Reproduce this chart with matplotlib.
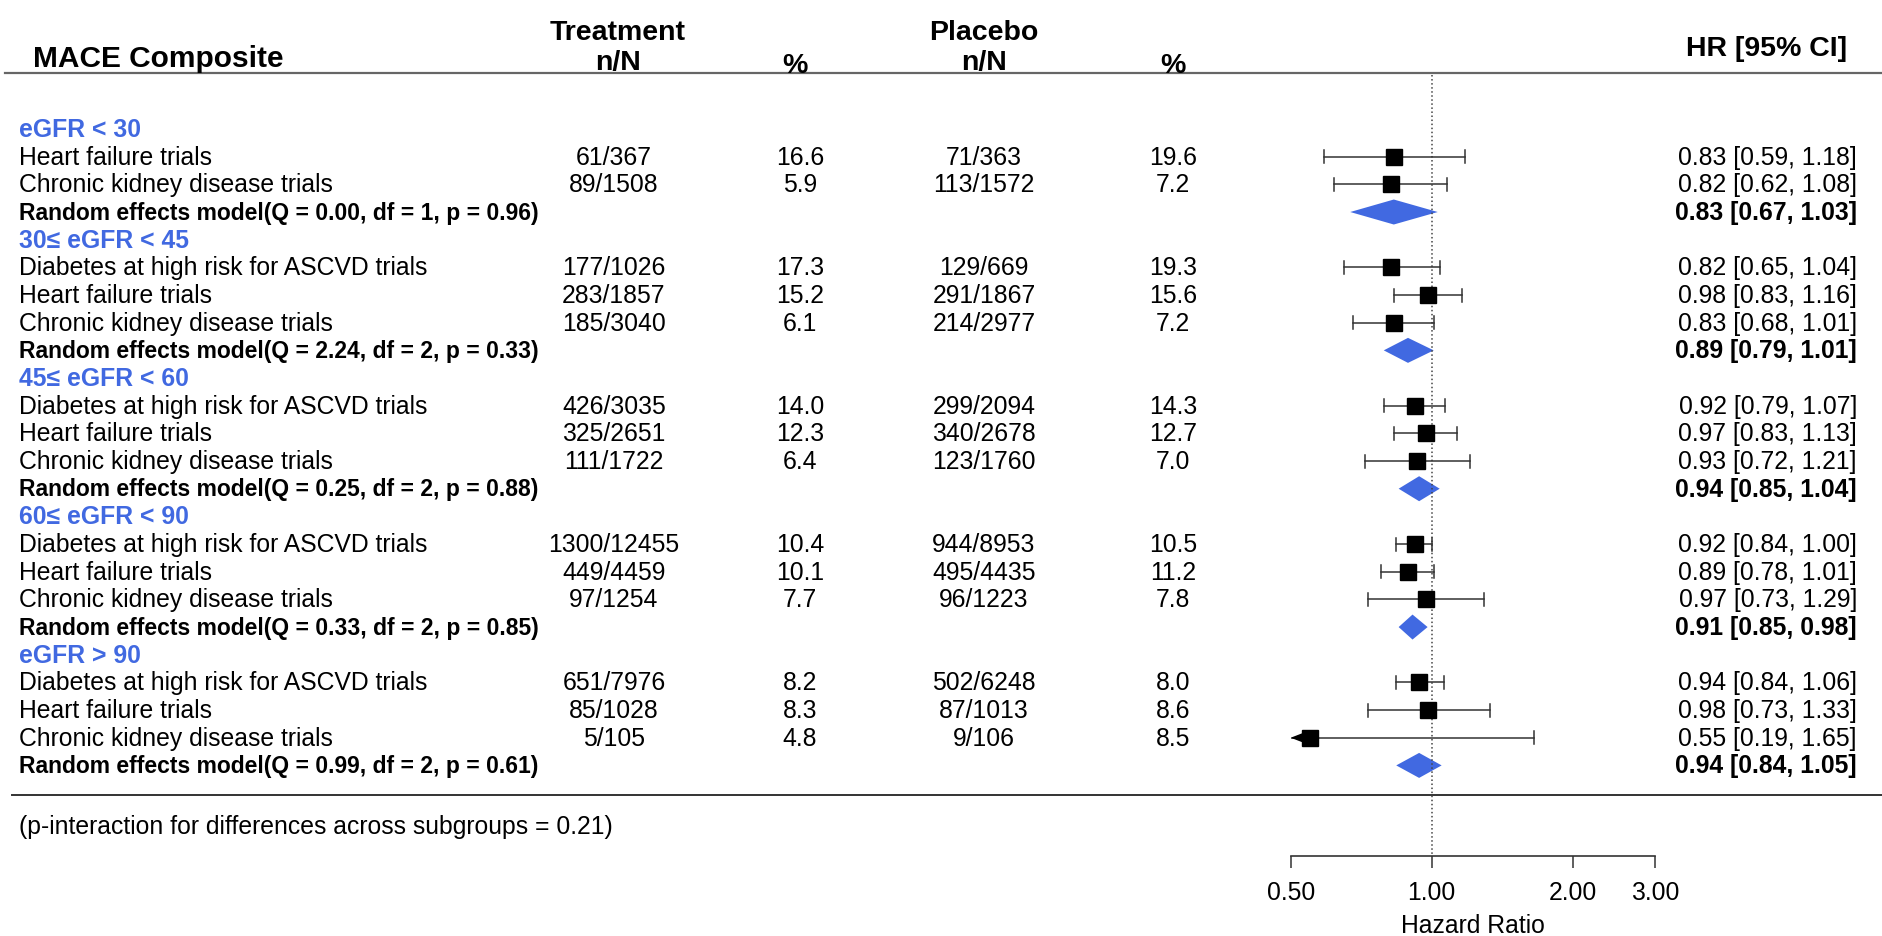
import numpy as np
import matplotlib.pyplot as plt
from matplotlib.ticker import NullLocator

plt.rcParams['font.family'] = ['Liberation Sans', 'DejaVu Sans']

# ---- data -------------------------------------------------------------
groups = ['eGFR < 30', '30≤ eGFR < 45', '45≤ eGFR < 60', '60≤ eGFR < 90', 'eGFR > 90']

trial_group = [0, 0, 1, 1, 1, 2, 2, 2, 3, 3, 3, 4, 4, 4]
trial_name = ['Heart failure trials', 'Chronic kidney disease trials',
              'Diabetes at high risk for ASCVD trials', 'Heart failure trials', 'Chronic kidney disease trials',
              'Diabetes at high risk for ASCVD trials', 'Heart failure trials', 'Chronic kidney disease trials',
              'Diabetes at high risk for ASCVD trials', 'Heart failure trials', 'Chronic kidney disease trials',
              'Diabetes at high risk for ASCVD trials', 'Heart failure trials', 'Chronic kidney disease trials']
trt_events = ['61/367', '89/1508', '177/1026', '283/1857', '185/3040', '426/3035', '325/2651', '111/1722',
              '1300/12455', '449/4459', '97/1254', '651/7976', '85/1028', '5/105']
trt_pct = [16.6, 5.9, 17.3, 15.2, 6.1, 14.0, 12.3, 6.4, 10.4, 10.1, 7.7, 8.2, 8.3, 4.8]
pbo_events = ['71/363', '113/1572', '129/669', '291/1867', '214/2977', '299/2094', '340/2678', '123/1760',
              '944/8953', '495/4435', '96/1223', '502/6248', '87/1013', '9/106']
pbo_pct = [19.6, 7.2, 19.3, 15.6, 7.2, 14.3, 12.7, 7.0, 10.5, 11.2, 7.8, 8.0, 8.6, 8.5]
hr = [0.83, 0.82, 0.82, 0.98, 0.83, 0.92, 0.97, 0.93, 0.92, 0.89, 0.97, 0.94, 0.98, 0.55]
hr_lo = [0.59, 0.62, 0.65, 0.83, 0.68, 0.79, 0.83, 0.72, 0.84, 0.78, 0.73, 0.84, 0.73, 0.19]
hr_hi = [1.18, 1.08, 1.04, 1.16, 1.01, 1.07, 1.13, 1.21, 1.00, 1.01, 1.29, 1.06, 1.33, 1.65]

re_q = [0.00, 2.24, 0.25, 0.33, 0.99]
re_df = [1, 2, 2, 2, 2]
re_p = [0.96, 0.33, 0.88, 0.85, 0.61]
re_hr = [0.83, 0.89, 0.94, 0.91, 0.94]
re_lo = [0.67, 0.79, 0.85, 0.85, 0.84]
re_hi = [1.03, 1.01, 1.04, 0.98, 1.05]

p_interaction = 0.21
xticks = [0.5, 1, 2, 3]
xtick_labels = ['0.50', '1.00', '2.00', '3.00']

# ---- layout (pixels) ---------------------------------------------------
W, H = 1883, 937
ROW0, DY = 130, 27.67
X_LAB, X_TN, X_TP, X_PN, X_PP, X_HR = 19, 614, 800, 984, 1173, 1857
FX0, FX1, AXY = 1290.7, 1655.2, 857
FS = 17.8      # regular body text
FS_RE = 16.5   # random-effects label
BLUE = '#4169E1'
GREY = '#333333'

fig = plt.figure(figsize=(W / 100, H / 100), dpi=100)
ax = fig.add_axes([0, 0, 1, 1])
ax.set_xlim(0, W)
ax.set_ylim(H, 0)
ax.axis('off')

axf = fig.add_axes([FX0 / W, (H - AXY) / H, (FX1 - FX0) / W, AXY / H])
axf.set_xscale('log')
axf.set_xlim(xticks[0], xticks[-1])
axf.set_ylim(AXY, 0)
axf.patch.set_visible(False)
for s in ['top', 'left', 'right']:
    axf.spines[s].set_visible(False)
axf.spines['bottom'].set_linewidth(1.2)
axf.spines['bottom'].set_color(GREY)
axf.set_yticks([])
axf.set_xticks(xticks)
axf.set_xticklabels(xtick_labels)
axf.xaxis.set_minor_locator(NullLocator())
axf.tick_params(axis='x', direction='out', length=8.6, width=1.1, color=GREY, labelsize=FS, pad=9)
axf.set_xlabel('Hazard Ratio', fontsize=FS, labelpad=6)

# header
ax.text(33, 59, 'MACE Composite', fontsize=21.5, fontweight='bold', va='center')
ax.text(X_TN + 4, 33, 'Treatment', fontsize=20.5, fontweight='bold', ha='center', va='center')
ax.text(X_TN + 4, 63, 'n/N', fontsize=20.5, fontweight='bold', ha='center', va='center')
ax.text(X_TP - 5, 66, '%', fontsize=20.5, fontweight='bold', ha='center', va='center')
ax.text(X_PN, 33, 'Placebo', fontsize=20.5, fontweight='bold', ha='center', va='center')
ax.text(X_PN, 63, 'n/N', fontsize=20.5, fontweight='bold', ha='center', va='center')
ax.text(X_PP, 66, '%', fontsize=20.5, fontweight='bold', ha='center', va='center')
ax.text(1847, 49, 'HR [95% CI]', fontsize=20.5, fontweight='bold', ha='right', va='center')
ax.plot([5, W], [74, 74], color='#666666', lw=1.6)

# reference line at HR = 1
axf.plot([1, 1], [76, AXY], ls=':', color='#444444', lw=1.1)

row = 0
for g, gname in enumerate(groups):
    y = ROW0 + row * DY
    ax.text(X_LAB, y, gname, color=BLUE, fontsize=FS, fontweight='bold', va='center')
    row += 1
    for k in [k for k in range(len(trial_name)) if trial_group[k] == g]:
        y = ROW0 + row * DY
        ax.text(X_LAB, y, trial_name[k], fontsize=FS, va='center')
        ax.text(X_TN, y, trt_events[k], fontsize=FS, ha='center', va='center')
        ax.text(X_TP, y, f'{trt_pct[k]:.1f}', fontsize=FS, ha='center', va='center')
        ax.text(X_PN, y, pbo_events[k], fontsize=FS, ha='center', va='center')
        ax.text(X_PP, y, f'{pbo_pct[k]:.1f}', fontsize=FS, ha='center', va='center')
        ax.text(X_HR, y, f'{hr[k]:.2f} [{hr_lo[k]:.2f}, {hr_hi[k]:.2f}]', fontsize=FS, ha='right', va='center')
        lo = max(hr_lo[k], xticks[0])
        axf.plot([lo, hr_hi[k]], [y, y], color=GREY, lw=1.1)
        axf.plot([hr_hi[k], hr_hi[k]], [y - 6.5, y + 6.5], color=GREY, lw=1.1)
        if hr_lo[k] >= xticks[0]:
            axf.plot([lo, lo], [y - 6.5, y + 6.5], color=GREY, lw=1.1)
        else:
            axf.annotate('', xy=(xticks[0], y), xytext=(xticks[0] * 1.075, y),
                         arrowprops=dict(arrowstyle='-|>,head_length=0.9,head_width=0.35',
                                         color='black', lw=1.1, shrinkA=0, shrinkB=0),
                         annotation_clip=False)
        axf.plot(hr[k], y, marker='s', ms=11.5, color='black', ls='none')
        row += 1
    y = ROW0 + row * DY
    ax.text(X_LAB, y, f'Random effects model(Q = {re_q[g]:.2f}, df = {re_df[g]}, p = {re_p[g]:.2f})',
            fontsize=FS_RE, fontweight='bold', va='center')
    ax.text(X_HR, y, f'{re_hr[g]:.2f} [{re_lo[g]:.2f}, {re_hi[g]:.2f}]', fontsize=FS,
            fontweight='bold', ha='right', va='center')
    axf.fill([re_lo[g], re_hr[g], re_hi[g], re_hr[g]], [y, y - 12.5, y, y + 12.5], color=BLUE, lw=0)
    row += 1

ax.plot([12, W], [796, 796], color=GREY, lw=1.4)
ax.text(X_LAB, 827, f'(p-interaction for differences across subgroups = {p_interaction:.2f})',
        fontsize=FS, va='center')

fig.savefig('out.png', dpi=100)
